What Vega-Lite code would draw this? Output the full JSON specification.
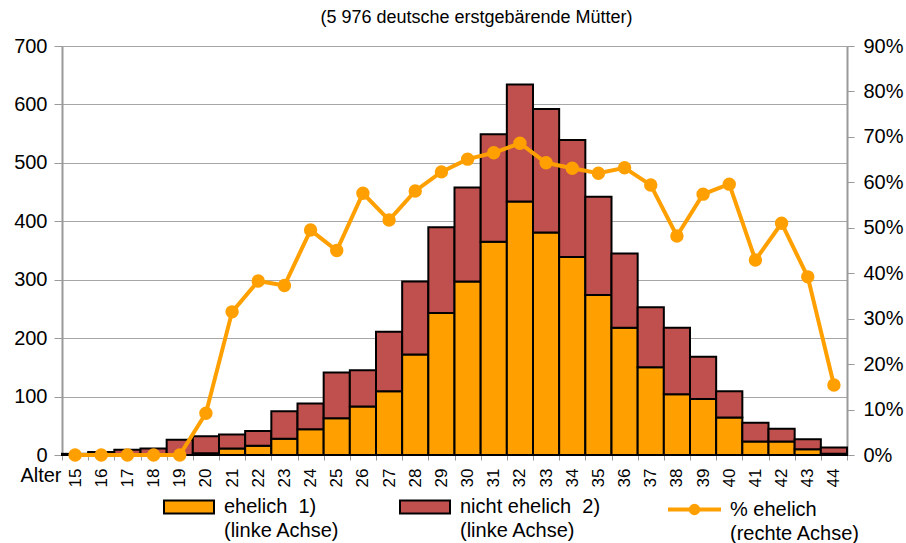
{
  "$schema": "https://vega.github.io/schema/vega-lite/v6.json",
  "width": 785,
  "height": 409,
  "autosize": "none",
  "padding": {"left": 62, "top": 46, "right": 59, "bottom": 88},
  "background": "white",
  "title": {"text": "(5 976 deutsche erstgebärende Mütter)", "fontSize": 18, "fontWeight": "normal", "font": "Liberation Sans", "color": "black", "anchor": "middle", "dx": 22, "offset": 9},
  "config": {
    "view": {"stroke": null},
    "font": "Liberation Sans",
    "style": {"guide-label": {"lineHeight": 24}},
    "axis": {"labelFont": "Liberation Sans", "labelColor": "black", "domainColor": "#9a9a9a", "tickColor": "#9a9a9a", "gridColor": "#a6a6a6", "gridWidth": 1, "domainWidth": 2, "tickWidth": 1}
  },
  "data": {"values": [
    {"Alter": 15, "ehelich": 0, "nicht ehelich": 2, "pct": 0},
    {"Alter": 16, "ehelich": 0, "nicht ehelich": 5, "pct": 0},
    {"Alter": 17, "ehelich": 0, "nicht ehelich": 9, "pct": 0},
    {"Alter": 18, "ehelich": 0, "nicht ehelich": 11, "pct": 0},
    {"Alter": 19, "ehelich": 0, "nicht ehelich": 26, "pct": 0},
    {"Alter": 20, "ehelich": 3, "nicht ehelich": 29, "pct": 0.092},
    {"Alter": 21, "ehelich": 11, "nicht ehelich": 24, "pct": 0.315},
    {"Alter": 22, "ehelich": 16, "nicht ehelich": 25, "pct": 0.383},
    {"Alter": 23, "ehelich": 28, "nicht ehelich": 47, "pct": 0.373},
    {"Alter": 24, "ehelich": 44, "nicht ehelich": 44, "pct": 0.495},
    {"Alter": 25, "ehelich": 63, "nicht ehelich": 78, "pct": 0.45},
    {"Alter": 26, "ehelich": 83, "nicht ehelich": 62, "pct": 0.576},
    {"Alter": 27, "ehelich": 109, "nicht ehelich": 102, "pct": 0.517},
    {"Alter": 28, "ehelich": 172, "nicht ehelich": 125, "pct": 0.581},
    {"Alter": 29, "ehelich": 243, "nicht ehelich": 147, "pct": 0.623},
    {"Alter": 30, "ehelich": 297, "nicht ehelich": 161, "pct": 0.651},
    {"Alter": 31, "ehelich": 365, "nicht ehelich": 184, "pct": 0.665},
    {"Alter": 32, "ehelich": 434, "nicht ehelich": 200, "pct": 0.686},
    {"Alter": 33, "ehelich": 381, "nicht ehelich": 211, "pct": 0.643},
    {"Alter": 34, "ehelich": 339, "nicht ehelich": 200, "pct": 0.631},
    {"Alter": 35, "ehelich": 274, "nicht ehelich": 168, "pct": 0.62},
    {"Alter": 36, "ehelich": 218, "nicht ehelich": 127, "pct": 0.632},
    {"Alter": 37, "ehelich": 150, "nicht ehelich": 103, "pct": 0.594},
    {"Alter": 38, "ehelich": 104, "nicht ehelich": 114, "pct": 0.482},
    {"Alter": 39, "ehelich": 96, "nicht ehelich": 72, "pct": 0.574},
    {"Alter": 40, "ehelich": 64, "nicht ehelich": 45, "pct": 0.596},
    {"Alter": 41, "ehelich": 23, "nicht ehelich": 32, "pct": 0.429},
    {"Alter": 42, "ehelich": 23, "nicht ehelich": 22, "pct": 0.51},
    {"Alter": 43, "ehelich": 10, "nicht ehelich": 17, "pct": 0.392},
    {"Alter": 44, "ehelich": 2, "nicht ehelich": 11, "pct": 0.154}
  ]},
  "layer": [
    {
      "transform": [{"fold": ["ehelich", "nicht ehelich"], "as": ["Art", "Anzahl"]}],
      "mark": {"type": "bar", "stroke": "black", "strokeWidth": 2},
      "encoding": {
        "x": {"field": "Alter", "type": "ordinal", "scale": {"paddingInner": 0, "paddingOuter": 0},
          "axis": {"title": "Alter", "titleAngle": 0, "titleAlign": "right", "titleBaseline": "middle", "titleX": -1, "titleY": 20, "titleFontSize": 20, "titleFontWeight": "normal", "titleColor": "black", "titleFont": "Liberation Sans",
            "labelAngle": 270, "labelFontSize": 17, "labelPadding": 8, "tickSize": 5, "tickBand": "extent", "domainWidth": 1}},
        "y": {"field": "Anzahl", "type": "quantitative", "stack": "zero", "scale": {"domain": [0, 700]},
          "axis": {"title": null, "values": [0, 100, 200, 300, 400, 500, 600, 700], "labelFontSize": 20, "tickSize": 8, "labelPadding": 7, "grid": true}},
        "order": {"field": "Art", "sort": "ascending"},
        "color": {"field": "Art", "type": "nominal", "scale": {"domain": ["ehelich", "nicht ehelich"], "range": ["#FFA000", "#C0504D"]},
          "legend": {"orient": "none", "legendX": 101, "legendY": 435, "direction": "horizontal", "title": null, "padding": 0,
            "symbolType": "M-1,-0.26H1V0.26H-1Z", "symbolSize": 2500, "symbolStrokeColor": "black", "symbolStrokeWidth": 2, "symbolOpacity": 1,
            "labelFontSize": 20, "labelColor": "black", "labelOffset": 9, "columnPadding": 56, "labelLimit": 400, "labelBaseline": "middle",
            "labelExpr": "datum.label == 'ehelich' ? ['ehelich\u00a0 1)', '(linke Achse)'] : ['nicht ehelich\u00a0 2)', '(linke Achse)']"}}
      }
    },
    {
      "mark": {"type": "line", "color": "#FFA000", "strokeWidth": 4, "point": {"filled": true, "size": 130, "color": "#FFA000"}},
      "encoding": {
        "x": {"field": "Alter", "type": "ordinal"},
        "y": {"field": "pct", "type": "quantitative", "scale": {"domain": [0, 0.9]},
          "axis": {"orient": "right", "title": null, "values": [0, 0.1, 0.2, 0.3, 0.4, 0.5, 0.6, 0.7, 0.8, 0.9], "format": ".0%", "labelFontSize": 20, "tickSize": 7, "labelPadding": 9, "grid": false}},
        "stroke": {"datum": "% ehelich", "scale": {"range": ["#FFA000"]},
          "legend": {"orient": "none", "legendX": 604, "legendY": 435, "title": null, "padding": 0,
            "symbolType": "M-1,0H1M0.14,0A0.14,0.14 0 1,1 -0.14,0A0.14,0.14 0 1,1 0.14,0Z", "symbolSize": 2809, "symbolStrokeColor": "#FFA000", "symbolFillColor": "#FFA000", "symbolStrokeWidth": 4, "symbolOpacity": 1,
            "labelFontSize": 20, "labelColor": "black", "labelOffset": 7, "labelLimit": 400, "labelBaseline": "middle",
            "labelExpr": "['% ehelich', '(rechte Achse)']"}}
      }
    }
  ],
  "resolve": {"scale": {"y": "independent"}}
}
